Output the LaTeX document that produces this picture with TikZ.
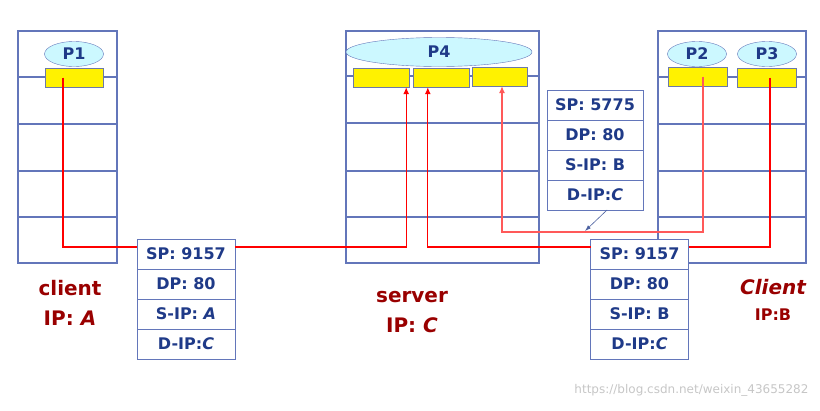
\documentclass[tikz,border=0pt]{standalone}
\usepackage{fontspec}
\setmainfont{DejaVu Sans}
\usetikzlibrary{arrows.meta,positioning,shapes.geometric}

\definecolor{hostblue}{HTML}{6376BA}
\definecolor{txtblue}{HTML}{1F3A88}
\definecolor{lblred}{HTML}{990000}
\definecolor{procfill}{HTML}{CCF8FF}

\tikzset{
  host/.style={draw=hostblue, line width=1.1pt, inner sep=0pt, outer sep=0pt, anchor=north west},
  proc/.style={ellipse, draw=hostblue, fill=procfill, text=txtblue, inner sep=0pt,
    minimum width=59, minimum height=25, font=\bfseries\fontsize{16}{16}\selectfont},
  sock/.style={draw=hostblue!70!gray, fill=yellow, minimum width=56, minimum height=19, inner sep=0pt},
  field/.style={draw=hostblue, line width=0.9pt, fill=white, text=txtblue, minimum width=98, minimum height=30,
    inner sep=0pt, outer sep=0pt, font=\bfseries\fontsize{16}{16}\selectfont},
  flow/.style={red, line width=1.1pt},
  lbl/.style={text=lblred, font=\bfseries\fontsize{20}{20}\selectfont}
}

\begin{document}
\begin{tikzpicture}[x=1pt,y=-1pt]
\useasboundingbox (0,0) rectangle (820,410);

% Hosts
\node[host, minimum width=99, minimum height=232] (hostA) at (18,31) {};
\node[host, minimum width=193, minimum height=232] (hostC) at (346,31) {};
\node[host, minimum width=148, minimum height=232] (hostB) at (658,31) {};
\foreach \y in {77,124,171,217} {
  \draw[hostblue, line width=1.1pt] (hostA.west |- 0,\y) -- (hostA.east |- 0,\y);
  \draw[hostblue, line width=1.1pt] (hostB.west |- 0,\y) -- (hostB.east |- 0,\y);
}
\foreach \y in {76,171,217}
  \draw[hostblue, line width=1.1pt] (hostC.west |- 0,\y) -- (hostC.east |- 0,\y);
\draw[hostblue, line width=2.4pt] (hostC.west |- 0,123) -- (hostC.east |- 0,123);

% Processes
\node[proc] (p1) at (74,54) {P1};
\node[proc, minimum width=186, minimum height=29] (p4) at (439,52) {P4};
\node[proc] (p2) at (697,54) {P2};
\node[proc] (p3) at (767,54) {P3};

% Sockets
\node[sock, minimum width=58] (s1) at (74,77.5) {};
\node[sock] (sv1) at (381,77.5) {};
\node[sock] (sv2) at (441,77.5) {};
\node[sock, minimum width=55] (sv3) at (499.5,76.5) {};
\node[sock, minimum width=59] (s2) at (697.5,76.5) {};
\node[sock, minimum width=59] (s3) at (766.5,77.5) {};

% Host labels
\node[lbl] (nameA) at (70,288) {client};
\node[lbl] (ipA) at (70,318) {IP: \textit{A}};
\node[lbl] (nameC) at (412,297) {server};
\node[lbl] (ipC) at (412,325) {IP: \textit{C}};
\node[lbl, font=\bfseries\itshape\fontsize{20}{20}\selectfont] (nameB) at (773,287) {Client};
\node[lbl, font=\bfseries\fontsize{16}{16}\selectfont] (ipB) at (773,315) {IP:B};

% Packet headers
\node[field] (pA1) at (186,254) {SP: 9157};
\node[field, below=0pt of pA1] (pA2) {DP: 80};
\node[field, below=0pt of pA2] (pA3) {S-IP: \textit{A}};
\node[field, below=0pt of pA3] (pA4) {D-IP:\textit{C}};

\node[field] (pB1) at (639.5,254) {SP: 9157};
\node[field, below=0pt of pB1] (pB2) {DP: 80};
\node[field, below=0pt of pB2] (pB3) {S-IP: B};
\node[field, below=0pt of pB3] (pB4) {D-IP:\textit{C}};

\node[field, minimum width=96] (pC1) at (595,105) {SP: 5775};
\node[field, minimum width=96, below=0pt of pC1] (pC2) {DP: 80};
\node[field, minimum width=96, below=0pt of pC2] (pC3) {S-IP: B};
\node[field, minimum width=96, below=0pt of pC3] (pC4) {D-IP:\textit{C}};

% Flows
\coordinate (yHi) at (0,247);
\coordinate (yLo) at (0,232);
\coordinate (ptr) at (585,231);
\draw[flow] ([xshift=-11]s1.center) |- (pA1.west |- yHi);
\draw[flow, -{Latex[length=7pt,width=6pt]}] (pA1.east |- yHi) -| ([xshift=-3]sv1.south east);
\draw[flow] ([xshift=3.5]s3.center) |- (pB1.east |- yHi);
\draw[flow, -{Latex[length=7pt,width=6pt]}] (pB1.west |- yHi) -| ([xshift=15]sv2.south west);
\draw[flow, red!65, -{Latex[length=7pt,width=6pt]}] ([xshift=5.5]s2.center)
  |- ([xshift=2.5]sv3.south |- yLo) -- ([xshift=2.5]sv3.south);
\draw[txtblue!80, line width=0.6pt, -{Latex[length=6pt,width=4pt]}] ([xshift=12]pC4.south) -- (ptr);

% Watermark
\node[anchor=east, text=gray!45, font=\fontsize{12}{12}\selectfont] (mark) at (812,390)
  {https://blog.csdn.net/weixin\_43655282};
\end{tikzpicture}
\end{document}
